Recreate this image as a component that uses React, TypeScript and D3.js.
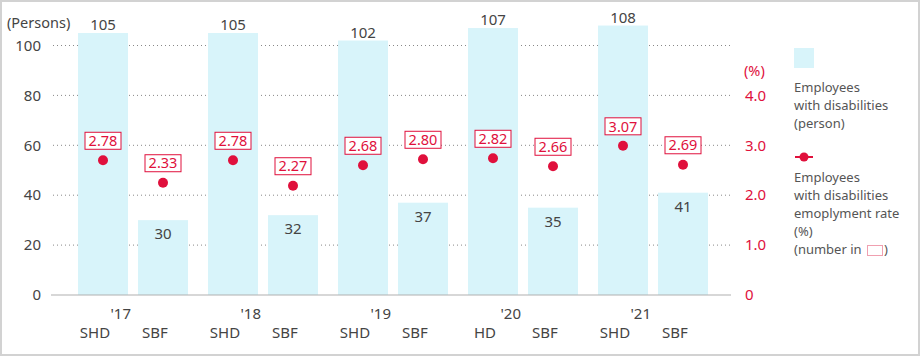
import React from "react";
import * as d3 from "d3";

const years = ["'17", "'18", "'19", "'20", "'21"];
const companies = ["SHD", "SBF", "SHD", "SBF", "SHD", "SBF", "HD", "SBF", "SHD", "SBF"];
const persons = [105, 30, 105, 32, 102, 37, 107, 35, 108, 41];
const rates = [2.78, 2.33, 2.78, 2.27, 2.68, 2.8, 2.82, 2.66, 3.07, 2.69];
const leftTicks = [0, 20, 40, 60, 80, 100];
const rightTicks = [0, 1, 2, 3, 4];
const legendBarLines = ["Employees", "with disabilities", "(person)"];
const legendRateLines = ["Employees", "with disabilities", "emoplyment rate", "(%)"];

const W = 920;
const H = 356;
const BLUE = "#d8f4fa";
const RED = "#e0103c";
const TEXT = "#444";
const FONT = "'Noto Sans', 'Open Sans', sans-serif";

export default function App() {
  const y = d3.scaleLinear().domain([0, 100]).range([295, 45.5]);
  const yRate = d3.scaleLinear().domain([0, 5]).range([295, 45.5]);
  const xGroup = d3.scaleBand<string>().domain(years).range([78, 708]).paddingInner(20 / 130).paddingOuter(0);
  const xInner = d3.scaleBand<string>().domain(["0", "1"]).range([0, xGroup.bandwidth()]).paddingInner(10 / 60).paddingOuter(0);
  const bw = xInner.bandwidth();
  const barX = (i: number) => (xGroup(years[Math.floor(i / 2)]) as number) + (xInner(String(i % 2)) as number);
  const dotDy = 4;

  return (
    <div style={{ position: "absolute", left: 0, top: 0 }}>
      <svg width={W} height={H} style={{ display: "block", fontFamily: FONT }}>
        <rect x={1} y={1} width={W - 2} height={H - 2} fill="#fff" stroke="#d2d2d2" strokeWidth={2} />
        {/* gridlines */}
        {leftTicks.filter((t) => t > 0).map((t) => (
          <line key={t} x1={53} x2={731} y1={y(t)} y2={y(t)} stroke="#888" strokeWidth={1} strokeDasharray="1 3" />
        ))}
        {/* bars */}
        {persons.map((v, i) => (
          <rect key={i} x={barX(i)} y={y(v)} width={bw} height={y(0) - y(v)} fill={BLUE} />
        ))}
        {/* baseline */}
        <line x1={51} x2={731} y1={y(0)} y2={y(0)} stroke="#b0b0b0" strokeWidth={1.2} />
        {/* left ticks */}
        <text x={7} y={28} fontSize={14.5} fill={TEXT}>(Persons)</text>
        {leftTicks.map((t) => (
          <text key={t} x={41} y={y(t)} dy="0.35em" textAnchor="end" fontSize={15} fill={TEXT}>{t}</text>
        ))}
        {/* right ticks */}
        <text x={744} y={71} dy="0.35em" fontSize={14.5} fill={RED}>(%)</text>
        {rightTicks.map((t) => (
          <text key={t} x={745} y={yRate(t)} dy="0.35em" fontSize={15} fill={RED}>{t === 0 ? "0" : d3.format(".1f")(t)}</text>
        ))}
        {/* bar value labels */}
        {persons.map((v, i) => (
          <text key={i} x={barX(i) + bw / 2} y={i % 2 === 0 ? y(v) - 3 : y(v) + 19} textAnchor="middle" fontSize={15} fill={TEXT}>{v}</text>
        ))}
        {/* rate dots and boxes */}
        {rates.map((r, i) => {
          const cx = barX(i) + bw / 2;
          const cy = yRate(r) + dotDy;
          const by = cy - 19.5;
          return (
            <g key={i}>
              <circle cx={cx} cy={cy} r={5} fill={RED} />
              <rect x={cx - 18} y={by - 8.5} width={36} height={17} fill="#fff" stroke={RED} strokeWidth={1} />
              <text x={cx} y={by} dy="0.36em" textAnchor="middle" fontSize={14.5} fill={RED}>{d3.format(".2f")(r)}</text>
            </g>
          );
        })}
        {/* category labels */}
        {years.map((yr, g) => (
          <text key={yr} x={barX(g * 2) + bw + 3} y={319} textAnchor="end" fontSize={15} fill={TEXT}>{yr}</text>
        ))}
        {companies.map((c, i) => (
          <text key={i} x={barX(i) + bw / 2 - 8} y={338} textAnchor="middle" fontSize={15} fill={TEXT}>{c}</text>
        ))}
        {/* legend */}
        <rect x={794} y={48} width={20} height={20} fill={BLUE} />
        {legendBarLines.map((l, k) => (
          <text key={k} x={794} y={87 + k * 18} dy="0.35em" fontSize={13} fill="#555">{l}</text>
        ))}
        <line x1={795} x2={813} y1={157} y2={157} stroke={RED} strokeWidth={2} />
        <circle cx={804} cy={157} r={4.5} fill={RED} />
        {legendRateLines.map((l, k) => (
          <text key={k} x={794} y={177 + k * 18} dy="0.35em" fontSize={13} fill="#555">{l}</text>
        ))}
        <text x={794} y={249} dy="0.35em" fontSize={13} fill="#555">(number in</text>
        <rect x={867.5} y={245.5} width={15} height={10} fill="#fff" stroke="#f0a0b0" strokeWidth={1} />
        <text x={884} y={249} dy="0.35em" fontSize={13} fill="#555">)</text>
      </svg>
    </div>
  );
}
